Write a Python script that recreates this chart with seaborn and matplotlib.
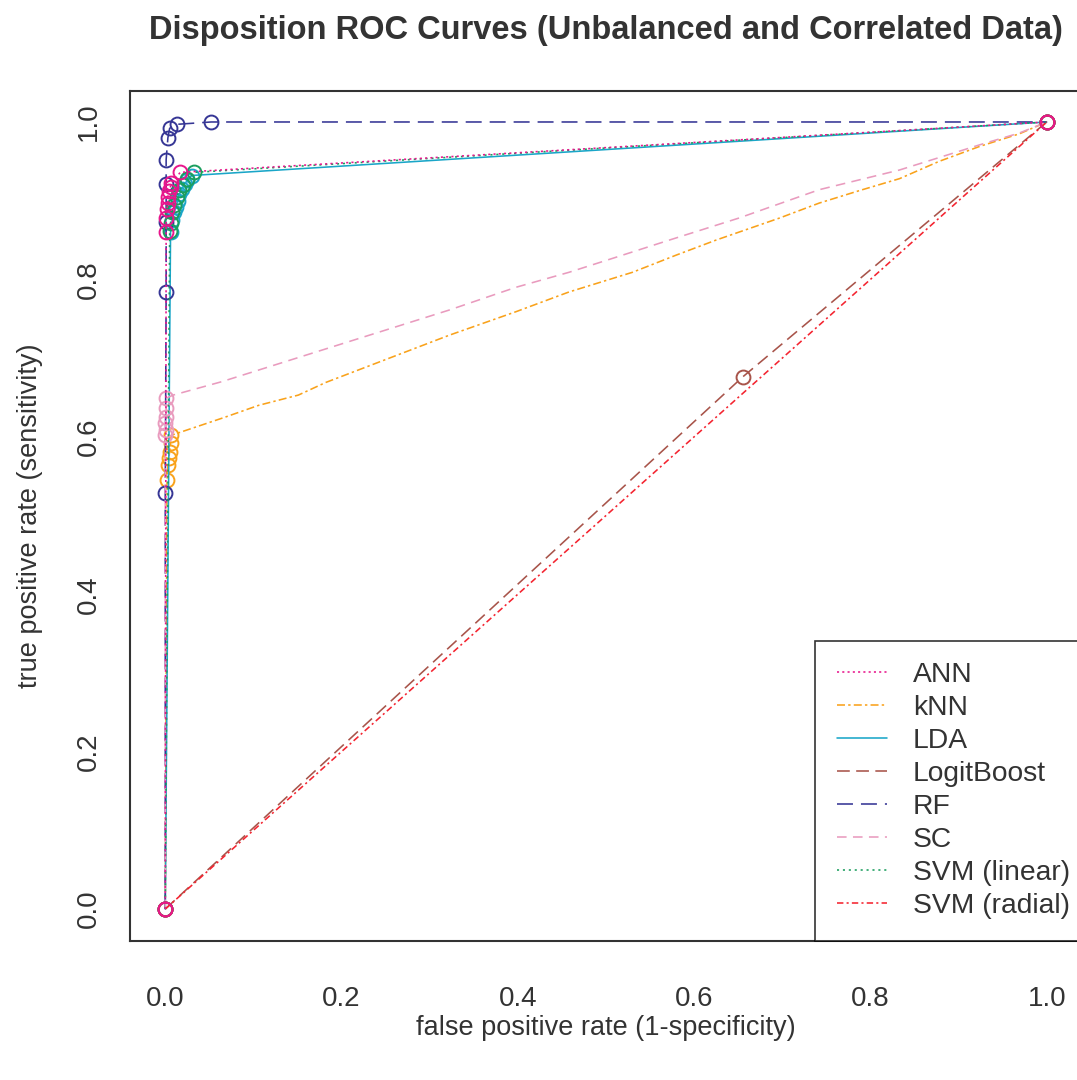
import matplotlib
matplotlib.use("Agg")
import matplotlib.pyplot as plt
from matplotlib.lines import Line2D
import seaborn as sns

# ROC points (false positive rate, true positive rate)
ann_fpr = [0, 0.001, 0.001, 0.002, 0.003, 0.003, 0.004, 0.006, 0.007, 0.017, 1]
ann_tpr = [0, 0.860, 0.878, 0.890, 0.897, 0.905, 0.912, 0.918, 0.922, 0.936, 1]

knn_fpr = [0, 0.002, 0.003, 0.004, 0.005, 0.006, 0.007, 0.015, 0.068, 0.106, 0.151, 0.182,
           0.322, 0.398, 0.458, 0.530, 0.580, 0.625, 0.697, 0.742, 0.788, 0.833, 0.878,
           0.924, 0.969, 1]
knn_tpr = [0, 0.545, 0.564, 0.573, 0.581, 0.592, 0.602, 0.605, 0.625, 0.640, 0.653, 0.669,
           0.729, 0.759, 0.784, 0.809, 0.831, 0.850, 0.878, 0.897, 0.913, 0.928, 0.950,
           0.969, 0.985, 1]
knn_marks = [0, 1, 2, 3, 4, 5, 6, 25]

lda_fpr = [0, 0.006, 0.008, 0.010, 0.012, 0.014, 0.016, 0.019, 0.022, 0.025, 0.030, 1]
lda_tpr = [0, 0.860, 0.875, 0.885, 0.892, 0.900, 0.908, 0.915, 0.921, 0.926, 0.932, 1]

lb_fpr = [0, 0.655, 1]
lb_tpr = [0, 0.676, 1]

rf_fpr = [0, 0, 0.001, 0.001, 0.001, 0.001, 0.003, 0.005, 0.013, 0.052, 1]
rf_tpr = [0, 0.528, 0.784, 0.873, 0.921, 0.952, 0.980, 0.992, 0.997, 1.0, 1]

sc_fpr = [0, 0.0, 0.001, 0.0, 0.001, 0.001, 0.001, 0.009, 0.064, 0.2, 0.322, 0.398, 0.458,
          0.511, 0.572, 0.651, 0.742, 0.833, 0.924, 0.969, 1]
sc_tpr = [0, 0.602, 0.609, 0.617, 0.625, 0.637, 0.649, 0.653, 0.670, 0.718, 0.761, 0.790,
          0.809, 0.828, 0.850, 0.878, 0.914, 0.939, 0.971, 0.986, 1]
sc_marks = [0, 1, 2, 3, 4, 5, 6, 20]

svml_fpr = [0, 0.005, 0.006, 0.008, 0.010, 0.013, 0.016, 0.020, 0.025, 0.033, 1]
svml_tpr = [0, 0.862, 0.872, 0.885, 0.895, 0.905, 0.913, 0.920, 0.927, 0.936, 1]

svmr_fpr = [0, 1]
svmr_tpr = [0, 1]

labels = ["ANN", "kNN", "LDA", "LogitBoost", "RF", "SC", "SVM (linear)", "SVM (radial)"]
colors = ["#E8168C", "#F9A21B", "#1AA6C8", "#A8544A", "#363695", "#E99BBE", "#1B9E5E", "#F42430"]
styles = [(0, (1.3, 2.0)), (0, (5, 2, 1.5, 2)), "-", (0, (8, 4)), (0, (10, 5)),
          (0, (6, 4)), (0, (1.3, 2.4)), (0, (4, 2, 1.3, 2))]

curves = [(ann_fpr, ann_tpr, None), (knn_fpr, knn_tpr, knn_marks), (lda_fpr, lda_tpr, None),
          (lb_fpr, lb_tpr, None), (rf_fpr, rf_tpr, None), (sc_fpr, sc_tpr, sc_marks),
          (svml_fpr, svml_tpr, None), (svmr_fpr, svmr_tpr, None)]

sns.set_style("white")
plt.rcParams["font.family"] = ["Liberation Sans", "DejaVu Sans"]
ink = "#333333"

fig = plt.figure(figsize=(10.77, 10.8), dpi=100)
ax = fig.add_axes([130 / 1077, 1 - 940.5 / 1080, 952 / 1077, 850 / 1080])

# draw ANN last so its circles sit on top, like the reference
order = [1, 2, 3, 4, 5, 6, 7, 0]
for i in order:
    x, y, marks = curves[i]
    sns.lineplot(x=x, y=y, ax=ax, sort=False, estimator=None, color=colors[i],
                 linestyle=styles[i], linewidth=1.15, marker="o", markersize=10,
                 markerfacecolor="none", markeredgecolor=colors[i], markeredgewidth=1.4,
                 markevery=marks)

ax.set_xlim(-0.04, 1.04)
ax.set_ylim(-0.04, 1.04)
ticks = [0.0, 0.2, 0.4, 0.6, 0.8, 1.0]
ax.set_xticks(ticks, [f"{t:.1f}" for t in ticks])
ax.set_yticks(ticks, [f"{t:.1f}" for t in ticks])
ax.tick_params(axis="both", direction="out", length=11, width=1.3, colors=ink,
               labelsize=20, labelcolor=ink)
ax.tick_params(axis="x", pad=22)
ax.tick_params(axis="y", pad=9)
for lab in ax.get_yticklabels():
    lab.set_rotation(90)
    lab.set_va("center")
for side in ["left", "bottom", "top"]:
    ax.spines[side].set_color(ink)
    ax.spines[side].set_linewidth(1.5)
ax.spines["right"].set_visible(False)

ax.set_xlabel("false positive rate (1-specificity)", fontsize=19.5, color=ink, labelpad=2)
ax.set_ylabel("true positive rate (sensitivity)", fontsize=19.5, color=ink, labelpad=24)
fig.text(606 / 1077, 1 - 31 / 1080, "Disposition ROC Curves (Unbalanced and Correlated Data)",
         ha="center", va="center", fontsize=23.5, fontweight="bold", color=ink)

handles = [Line2D([], [], color=c, linestyle=s, linewidth=1.15) for c, s in zip(colors, styles)]
leg = ax.legend(handles, labels, loc="lower right", bbox_to_anchor=(1 + 9 / 952, 0),
                borderaxespad=0, fontsize=20.3, frameon=True, fancybox=False,
                handlelength=1.8, handletextpad=0.9, labelspacing=0.25, borderpad=0.75,
                labelcolor=ink)
leg.get_frame().set_edgecolor("black")
leg.get_frame().set_linewidth(1.2)

fig.savefig("out.png", dpi=100)
